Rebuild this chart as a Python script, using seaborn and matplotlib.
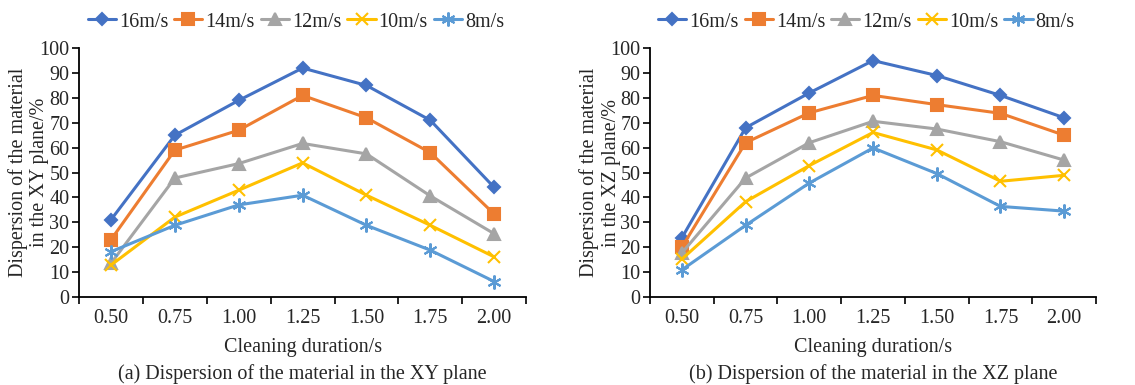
import numpy as np
import pandas as pd
import matplotlib
matplotlib.use("Agg")
import matplotlib.pyplot as plt
import seaborn as sns

sns.set_theme(style="ticks")
plt.rcParams['font.family'] = ['Liberation Serif', 'DejaVu Serif']
plt.rcParams['mathtext.fontset'] = 'stix'

durations = ["0.50", "0.75", "1.00", "1.25", "1.50", "1.75", "2.00"]
speeds = ["16m/s", "14m/s", "12m/s", "10m/s", "8m/s"]

xy_16 = [31, 65, 79, 92, 85, 71, 44]
xy_14 = [23, 59, 67, 81, 72, 58, 33.3]
xy_12 = [13.5, 47.8, 53.6, 61.7, 57.5, 40.6, 25.4]
xy_10 = [12.8, 32.1, 42.9, 53.9, 40.9, 28.8, 16.1]
xy_8 = [18.2, 28.8, 37, 40.9, 28.8, 18.8, 6.2]

xz_16 = [23.8, 68, 82, 95, 89, 81, 72]
xz_14 = [20, 62, 74, 81, 77.3, 73.8, 65]
xz_12 = [17.7, 47.8, 62, 70.6, 67.5, 62.4, 55]
xz_10 = [15.2, 38.3, 52.8, 66.1, 59.1, 46.5, 48.9]
xz_8 = [10.9, 28.8, 45.8, 59.9, 49.6, 36.4, 34.5]

colors = {"16m/s": "#4472C4", "14m/s": "#ED7D31", "12m/s": "#A5A5A5",
          "10m/s": "#FFC000", "8m/s": "#5B9BD5"}
markers = {"16m/s": "D", "14m/s": "s", "12m/s": "^", "10m/s": "x", "8m/s": (6, 2, 0)}
msizes = {"16m/s": 6, "14m/s": 8, "12m/s": 8, "10m/s": 9, "8m/s": 10}


def long_df(series):
    rows = []
    for sp, vals in zip(speeds, series):
        for d, v in zip(durations, vals):
            rows.append({"duration": d, "speed": sp, "value": v})
    return pd.DataFrame(rows)


df_xy = long_df([xy_16, xy_14, xy_12, xy_10, xy_8])
df_xz = long_df([xz_16, xz_14, xz_12, xz_10, xz_8])

fig = plt.figure(figsize=(11.35, 3.85), dpi=100)
ax1 = fig.add_axes([0.0696, 0.2286, 0.394, 0.6464])
ax2 = fig.add_axes([0.5727, 0.2286, 0.393, 0.6464])

FS = 14.5

for ax, df, plane, cap in [(ax1, df_xy, "XY", "(a) Dispersion of the material in the XY plane"),
                           (ax2, df_xz, "XZ", "(b) Dispersion of the material in the XZ plane")]:
    for sp in speeds:
        sub = df[df["speed"] == sp]
        sns.lineplot(data=sub, x="duration", y="value", ax=ax, color=colors[sp],
                     marker=markers[sp], markersize=msizes[sp], markeredgecolor=colors[sp],
                     markeredgewidth=1.5, linewidth=2.2, sort=False, label=sp, legend=False)
    ax.set_xlim(-0.5, 6.5)
    ax.set_ylim(0, 100)
    ax.set_yticks(np.arange(0, 101, 10))
    ax.set_xticks(range(len(durations)))
    ax.set_xticklabels(durations)
    ax.set_xticks(np.arange(-0.5, 6.6, 1.0), minor=True)
    ax.tick_params(axis='x', which='major', length=0, labelsize=FS, pad=9)
    ax.tick_params(axis='x', which='minor', length=5, width=1.2, color='black', direction='out')
    ax.tick_params(axis='y', which='major', length=5, width=1.2, labelsize=FS, pad=2, color='black')
    sns.despine(ax=ax)
    for s in ['left', 'bottom']:
        ax.spines[s].set_color('black')
        ax.spines[s].set_linewidth(1.3)
    ax.set_xlabel("Cleaning duration/s", fontsize=FS, labelpad=7)
    ax.set_ylabel(f"Dispersion of the material\nin the {plane} plane/%", fontsize=FS,
                  linespacing=1.15)
    ax.yaxis.set_label_coords(-0.066, 0.5)
    ax.text(0.5, -0.31, cap, transform=ax.transAxes, ha='center', va='center', fontsize=FS)
    ax.legend(loc='lower center', bbox_to_anchor=(0.485, 1.01), ncol=5, frameon=False,
              fontsize=FS, handlelength=1.4, handletextpad=0.15, columnspacing=0.3,
              borderaxespad=0.3)

fig.savefig("out.png", dpi=100)
